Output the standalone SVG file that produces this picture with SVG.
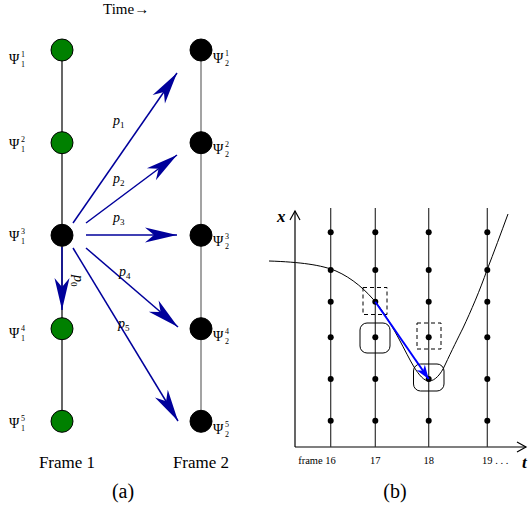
<svg xmlns="http://www.w3.org/2000/svg" width="530" height="510" viewBox="0 0 530 510" font-family="'Liberation Serif', 'Times New Roman', serif">
<style>
text{font-family:'Liberation Serif','Times New Roman',serif;fill:#000}
.psi{font-size:14px}
.scr{font-size:8px}
.p{font-size:14px;font-style:italic}
.ps{font-size:9px;font-style:normal}
.cap{font-size:17px}
.sub{font-size:20px}
.tick{font-size:10.5px}
.ax{font-size:17px;font-weight:bold;font-style:italic}
.arr{stroke:#00009b;stroke-width:1.5;fill:none;marker-end:url(#big)}
.g{fill:#008000;stroke:#000;stroke-width:1}
.k{fill:#000;stroke:#000;stroke-width:1}
.vl{stroke:#333;stroke-width:1.2}
.dot{fill:#000}
</style>
<defs>
<marker id="big" markerUnits="userSpaceOnUse" viewBox="-33 -9 35 18" markerWidth="35" markerHeight="18" refX="0" refY="0" orient="auto">
<path d="M0,0 L-32,-7.5 L-23,0 L-32,7.5 Z" fill="#00009b"/>
</marker>
<marker id="sm" markerUnits="userSpaceOnUse" viewBox="-15 -6 16 12" markerWidth="16" markerHeight="12" refX="0" refY="0" orient="auto">
<path d="M0,0 L-14,-5 L-10,0 L-14,5 Z" fill="#0000ff"/>
</marker>
<marker id="open" markerUnits="userSpaceOnUse" viewBox="-10 -6 12 12" markerWidth="12" markerHeight="12" refX="0" refY="0" orient="auto">
<path d="M-9,-5 L0,0 L-9,5" fill="none" stroke="#000" stroke-width="1.2"/>
</marker>
</defs>

<!-- Panel (a) -->
<text x="103" y="14" style="font-size:15px">Time→</text>

<g id="columns">
<line x1="62" y1="50" x2="62" y2="421" stroke="#000" stroke-width="1.2"/>
<line x1="201" y1="50" x2="201" y2="421" stroke="#666" stroke-width="1.2"/>
</g>

<g id="connectors">
<line class="arr" x1="73" y1="223" x2="177" y2="73"/>
<line class="arr" x1="86" y1="223" x2="177" y2="155"/>
<line class="arr" x1="86" y1="235" x2="177" y2="235"/>
<line class="arr" x1="86" y1="248" x2="178" y2="327"/>
<line class="arr" x1="73" y1="248" x2="178" y2="421"/>
<line class="arr" x1="62" y1="247" x2="62" y2="310"/>
<text class="p" x="113" y="125">p<tspan class="ps" dy="3">1</tspan></text>
<text class="p" x="113" y="183">p<tspan class="ps" dy="3">2</tspan></text>
<text class="p" x="113" y="222">p<tspan class="ps" dy="3">3</tspan></text>
<text class="p" x="119" y="276">p<tspan class="ps" dy="3">4</tspan></text>
<text class="p" x="118" y="328">p<tspan class="ps" dy="3">5</tspan></text>
<text class="p" transform="translate(74,275) rotate(90)">p<tspan class="ps" dy="3">0</tspan></text>
</g>

<g id="L1"><circle class="g" cx="62" cy="50" r="11"/><text class="psi" x="9" y="64">Ψ</text><text class="scr" x="21" y="57">1</text><text class="scr" x="21" y="67">1</text></g>
<g id="L2"><circle class="g" cx="62" cy="142.7" r="11"/><text class="psi" x="9" y="149">Ψ</text><text class="scr" x="21" y="142">2</text><text class="scr" x="21" y="152">1</text></g>
<g id="L3"><circle class="k" cx="62" cy="235.3" r="11"/><text class="psi" x="9" y="241">Ψ</text><text class="scr" x="21" y="234">3</text><text class="scr" x="21" y="244">1</text></g>
<g id="L4"><circle class="g" cx="62" cy="328.7" r="11"/><text class="psi" x="9" y="338">Ψ</text><text class="scr" x="21" y="331">4</text><text class="scr" x="21" y="341">1</text></g>
<g id="L5"><circle class="g" cx="62" cy="421.3" r="11"/><text class="psi" x="9" y="428">Ψ</text><text class="scr" x="21" y="421">5</text><text class="scr" x="21" y="431">1</text></g>

<g id="R1"><circle class="k" cx="201" cy="50" r="11"/><text class="psi" x="213" y="63">Ψ</text><text class="scr" x="225" y="56">1</text><text class="scr" x="225" y="66">2</text></g>
<g id="R2"><circle class="k" cx="201" cy="142.7" r="11"/><text class="psi" x="213" y="154">Ψ</text><text class="scr" x="225" y="147">2</text><text class="scr" x="225" y="157">2</text></g>
<g id="R3"><circle class="k" cx="201" cy="235.3" r="11"/><text class="psi" x="213" y="246">Ψ</text><text class="scr" x="225" y="239">3</text><text class="scr" x="225" y="249">2</text></g>
<g id="R4"><circle class="k" cx="201" cy="328.7" r="11"/><text class="psi" x="213" y="341">Ψ</text><text class="scr" x="225" y="334">4</text><text class="scr" x="225" y="344">2</text></g>
<g id="R5"><circle class="k" cx="201" cy="421.3" r="11"/><text class="psi" x="213" y="434">Ψ</text><text class="scr" x="225" y="427">5</text><text class="scr" x="225" y="437">2</text></g>

<text class="cap" x="67" y="468" text-anchor="middle">Frame 1</text>
<text class="cap" x="201" y="468" text-anchor="middle">Frame 2</text>
<text class="sub" x="123" y="498" text-anchor="middle">(a)</text>

<!-- Panel (b) -->
<g id="axes">
<line x1="295" y1="447" x2="295" y2="211" stroke="#000" stroke-width="1.2" marker-end="url(#open)"/>
<line x1="295" y1="447" x2="526" y2="447" stroke="#000" stroke-width="1.2" marker-end="url(#open)"/>
<text class="ax" x="277" y="222">x</text>
<text class="ax" x="522" y="468">t</text>
</g>

<g id="frames">
<line class="vl" x1="330.7" y1="208" x2="330.7" y2="447"/>
<line class="vl" x1="375.3" y1="208" x2="375.3" y2="447"/>
<line class="vl" x1="428.7" y1="208" x2="428.7" y2="447"/>
<line class="vl" x1="487.3" y1="208" x2="487.3" y2="447"/>
<g class="dot">
<circle cx="330.7" cy="232.3" r="3"/><circle cx="330.7" cy="270" r="3"/><circle cx="330.7" cy="301.7" r="3"/><circle cx="330.7" cy="337.3" r="3"/><circle cx="330.7" cy="379" r="3"/><circle cx="330.7" cy="420.7" r="3"/>
<circle cx="375.3" cy="232.3" r="3"/><circle cx="375.3" cy="270" r="3"/><circle cx="375.3" cy="301.7" r="3"/><circle cx="375.3" cy="337.3" r="3"/><circle cx="375.3" cy="379" r="3"/><circle cx="375.3" cy="420.7" r="3"/>
<circle cx="428.7" cy="232.3" r="3"/><circle cx="428.7" cy="270" r="3"/><circle cx="428.7" cy="301.7" r="3"/><circle cx="428.7" cy="337.3" r="3"/><circle cx="428.7" cy="379" r="3"/><circle cx="428.7" cy="420.7" r="3"/>
<circle cx="487.3" cy="232.3" r="3"/><circle cx="487.3" cy="270" r="3"/><circle cx="487.3" cy="301.7" r="3"/><circle cx="487.3" cy="337.3" r="3"/><circle cx="487.3" cy="379" r="3"/><circle cx="487.3" cy="420.7" r="3"/>
</g>
<text class="tick" x="317" y="464" text-anchor="middle">frame 16</text>
<text class="tick" x="375.3" y="464" text-anchor="middle">17</text>
<text class="tick" x="428.7" y="464" text-anchor="middle">18</text>
<text class="tick" x="482" y="464">19 . . .</text>
</g>

<g id="curve">
<path d="M269,261 C300,262 322,265 336,271 C352,278 366,290 378,305 C395,328 405,352 414,367 C419,375 424,381 429,381 C435,381 441,374 445,365 C452,350 458,338 463,328 C471,311 480,290 487,270 C494,252 501,233 508,214" fill="none" stroke="#000" stroke-width="1"/>
</g>

<g id="boxes">
<rect x="363" y="287.5" width="24" height="27" fill="none" stroke="#000" stroke-width="1" stroke-dasharray="4,3"/>
<rect x="417" y="323" width="24" height="26" fill="none" stroke="#000" stroke-width="1" stroke-dasharray="4,3"/>
<rect x="360" y="323" width="30" height="30" rx="7" fill="none" stroke="#000" stroke-width="1"/>
<rect x="413.5" y="364" width="30.5" height="27" rx="7" fill="none" stroke="#000" stroke-width="1"/>
</g>

<g id="track">
<line x1="375.3" y1="301.7" x2="428.7" y2="379" stroke="#0000ff" stroke-width="2" marker-end="url(#sm)"/>
</g>

<text class="sub" x="395" y="498" text-anchor="middle">(b)</text>
</svg>
